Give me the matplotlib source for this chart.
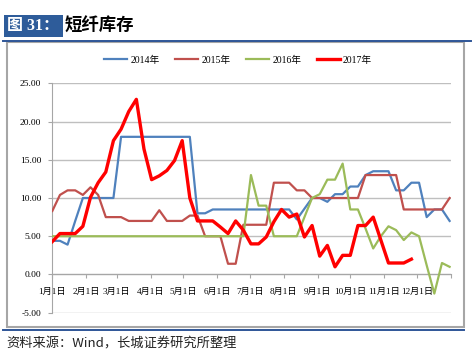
import matplotlib
matplotlib.use('Agg')
import matplotlib.pyplot as plt
from matplotlib.patches import Rectangle
from matplotlib.lines import Line2D

plt.rcParams['font.family'] = ['Liberation Serif', 'Noto Sans CJK SC', 'DejaVu Sans']

# ---------------- data ----------------
years = ['2014年', '2015年', '2016年', '2017年']
colors = ['#4F81BD', '#C0504D', '#9BBB59', '#FF0000']
widths = [1.6, 1.6, 1.6, 2.4]

s2014 = [4.4, 4.4, 3.9, 7.0, 10, 10, 10, 10, 10, 18, 18, 18, 18, 18, 18, 18, 18, 18, 18,
         8, 8, 8.5, 8.5, 8.5, 8.5, 8.5, 8.5, 8.5, 8.5, 8.5, 8.5, 8.5, 7.2, 8.6, 10, 10, 9.5,
         10.5, 10.5, 11.5, 11.5, 13, 13.5, 13.5, 13.5, 11, 11, 12, 12, 7.5, 8.5, 8.5, 7.0]
s2015 = [8.3, 10.4, 11, 11, 10.4, 11.4, 10.4, 7.5, 7.5, 7.5, 7, 7, 7, 7, 8.4, 7, 7, 7, 7.7, 7.7,
         5, 5, 5, 1.4, 1.4, 6.5, 6.5, 6.5, 6.5, 12, 12, 12, 11, 11, 10, 10, 10, 10, 10, 10, 10,
         13, 13, 13, 13, 13, 8.5, 8.5, 8.5, 8.5, 8.5, 8.5, 10]
s2016 = [5] * 26 + [13, 9, 9, 5, 5, 5, 5, 7.5, 10, 10.5, 12.4, 12.4, 14.5, 8.5, 8.5, 6.0,
                   3.4, 5.0, 6.3, 5.8, 4.5, 5.5, 5.0, 1.2, -2.5, 1.5, 1.0]
s2017 = [4.3, 5.35, 5.35, 5.35, 6.3, 10.1, 12.0, 13.4, 17.5, 19, 21.3, 22.9, 16.4, 12.4, 12.9,
         13.6, 14.9, 17.5, 10.0, 7.0, 7.0, 7.0, 6.2, 5.35, 7.0, 5.8, 4.0, 4.0, 4.9, 6.9, 8.5,
         7.5, 7.9, 4.9, 6.4, 2.4, 3.8, 1.0, 2.5, 2.5, 6.4, 6.4, 7.5, 4.5, 1.5, 1.5, 1.5, 2.0]
series = [s2014, s2015, s2016, s2017]

month_labels = ['1月1日', '2月1日', '3月1日', '4月1日', '5月1日', '6月1日',
                '7月1日', '8月1日', '9月1日', '10月1日', '11月1日', '12月1日']
month_days = [0, 31, 59, 90, 120, 151, 181, 212, 243, 273, 304, 334]
y_ticks = [-5, 0, 5, 10, 15, 20, 25]

title_tag = '图 31：'
title_text = '短纤库存'
source_text = '资料来源：Wind，长城证券研究所整理'

# ---------------- figure ----------------
W, H = 474, 362
fig = plt.figure(figsize=(W / 100, H / 100), dpi=100)
fig.patch.set_facecolor('white')

def fx(px):
    return px / W

def fy(py):
    return 1 - py / H

# outer frame and blue rules
fig.add_artist(Rectangle((fx(7), fy(327)), fx(464) - fx(7), fy(42) - fy(327),
                         transform=fig.transFigure, fill=False, ec='#A6A6A6', lw=1.5))
fig.add_artist(Line2D([fx(3), fx(471)], [fy(40.5), fy(40.5)], transform=fig.transFigure,
                      color='#2E5597', lw=1.4))
fig.add_artist(Line2D([fx(3), fx(464)], [fy(329.5), fy(329.5)], transform=fig.transFigure,
                      color='#2E5597', lw=1.4))

# title
fig.add_artist(Rectangle((fx(4), fy(37)), fx(63) - fx(4), fy(15) - fy(37),
                         transform=fig.transFigure, fc='#2E5C9A', ec='none'))
fig.text(fx(7), fy(26), title_tag, color='white', fontsize=11.5, fontweight='bold',
         va='center', ha='left')
fig.text(fx(65), fy(26), title_text, color='black', fontsize=12.5, fontweight='bold',
         family=['Noto Sans CJK SC', 'DejaVu Sans'], va='center', ha='left')

# source
fig.text(fx(6), fy(344), source_text, color='#222222', fontsize=9.5,
         family=['Noto Sans CJK SC', 'DejaVu Sans'], va='center', ha='left')

# axes
ax = fig.add_axes([fx(52.3), fy(312.7), fx(450.7) - fx(52.3), fy(83.3) - fy(312.7)])
for s, c, w, lab in zip(series, colors, widths, years):
    xs = [7 * i for i in range(len(s))]
    ax.plot(xs, s, color=c, lw=w, label=lab, solid_joinstyle='round', zorder=3)

ax.set_xlim(0, 365)
ax.set_ylim(-5, 25)
ax.set_yticks(y_ticks)
ax.set_yticklabels([f'{v:.2f}' for v in y_ticks])
ax.set_xticks(month_days + [365])
ax.set_xticklabels(month_labels + [''])

ax.yaxis.grid(True, color='#BFBFBF', lw=1.0)
ax.set_axisbelow(True)
for sp in ['top', 'right']:
    ax.spines[sp].set_visible(False)
ax.spines['left'].set_color('#A6A6A6')
ax.spines['bottom'].set_color('#A6A6A6')
ax.spines['bottom'].set_position(('data', 0))
ax.tick_params(axis='x', direction='out', length=3, color='#A6A6A6', pad=7, labelsize=6.6)
ax.tick_params(axis='y', direction='out', length=3, color='#A6A6A6', pad=5, labelsize=6.8)
ax.patch.set_alpha(0)

leg = fig.legend(loc='center', bbox_to_anchor=(fx(238), fy(60)), ncol=4, frameon=False,
                 handlelength=2.4, handletextpad=0.3, columnspacing=1.6,
                 prop={'size': 7})

fig.savefig('out.png', dpi=100)
